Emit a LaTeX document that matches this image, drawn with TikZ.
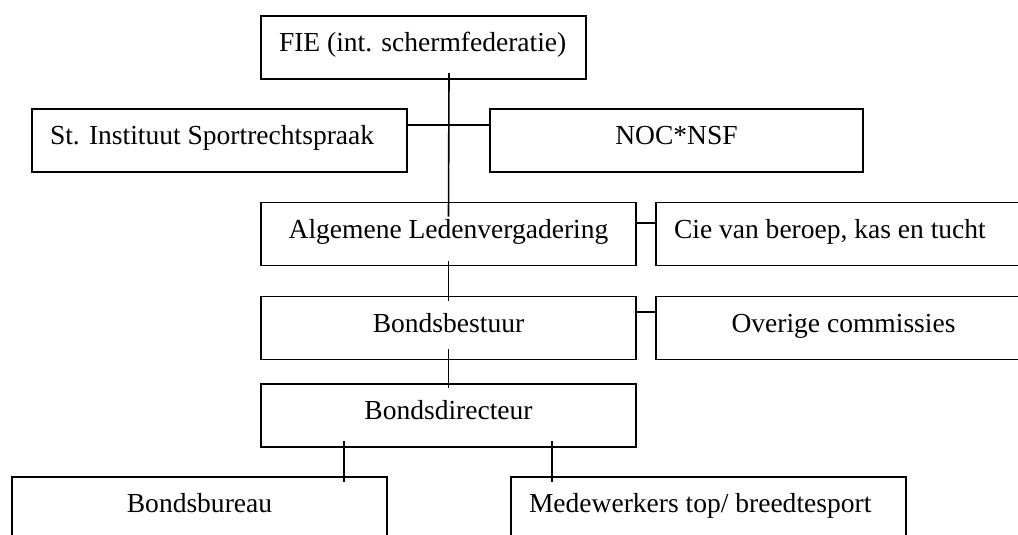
\documentclass[tikz,border=0pt]{standalone}
\usepackage{fontspec}
\setmainfont{Liberation Serif}
\usepackage{tikz}

\newdimen\px
\px=0.436pt

\tikzset{
    box/.style={draw, rectangle, minimum width=#1\px, minimum height=63\px,
        inner ysep=0pt, text height=20\px, text depth=12\px, align=center},
    lbox/.style={draw, rectangle, text width=#1\px, minimum height=63\px,
        inner ysep=0pt, inner xsep=18\px, text height=20\px, text depth=12\px, align=flush left},
}

\begin{document}
\begin{tikzpicture}[x=\px, y=-\px, line width=0.7pt, font=\fontsize{12}{14}\selectfont]
    \useasboundingbox (0,0) rectangle (1018,534);
    \clip (0,0) rectangle (1018,534);

    \node[lbox=289] (fie) at (423.5,47.5) {FIE (int. schermfederatie)};
    \node[lbox=339] (isr) at (219.5,140.5) {St. Instituut Sportrechtspraak};
    \node[box=373] (noc) at (676.5,140.5) {NOC*NSF};
    \node[box=375] (alv) at (448.5,234) {Algemene Ledenvergadering};
    \node[lbox=339] (cie) at (843.5,234) {Cie van beroep, kas en tucht};
    \node[box=375] (bb) at (448.5,328) {Bondsbestuur};
    \node[box=375] (oc) at (843.5,328) {Overige commissies};
    \node[box=375] (bd) at (448.5,415.5) {Bondsdirecteur};
    \node[box=375] (bbu) at (199.5,508.5) {Bondsbureau};
    \node[lbox=359] (mw) at (708.5,508.5) {Medewerkers top/ breedtesport};

    \coordinate (top) at (449,73);
    \coordinate (k1) at (344,441);
    \coordinate (k2) at (552,441);

    \draw (top) -- ([yshift=-15\px]alv.north);
    \draw ([yshift=15.5\px]isr.east) -- ([yshift=15.5\px]noc.west);
    \draw ([yshift=11\px]alv.east) -- ([yshift=11\px]cie.west);
    \draw ([yshift=5\px]alv.south) -- ([yshift=-5\px]bb.north);
    \draw ([yshift=16\px]bb.east) -- ([yshift=16\px]oc.west);
    \draw ([yshift=11\px]bb.south) -- ([yshift=-5\px]bd.north);
    \draw (k1) -- (k1 |- bbu.north) -- ++(0,6);
    \draw (k2) -- (k2 |- mw.north) -- ++(0,6);

\end{tikzpicture}
\end{document}
